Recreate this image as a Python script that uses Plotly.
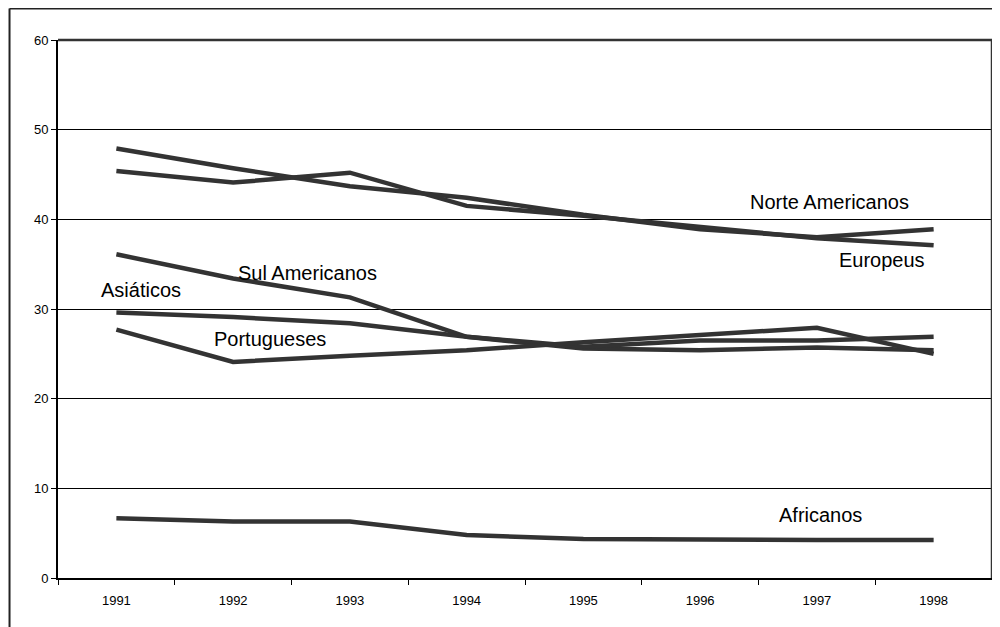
import plotly.graph_objects as go

years = ["1991", "1992", "1993", "1994", "1995", "1996", "1997", "1998"]
norte_americanos = [47.9, 45.7, 43.7, 42.4, 40.5, 38.9, 38.0, 38.9]
europeus = [45.4, 44.1, 45.2, 41.5, 40.4, 39.1, 37.9, 37.1]
sul_americanos = [36.1, 33.4, 31.3, 26.9, 25.6, 25.4, 25.7, 25.4]
asiaticos = [29.6, 29.1, 28.4, 26.9, 25.8, 26.5, 26.5, 26.9]
portugueses = [27.7, 24.1, 24.8, 25.4, 26.3, 27.1, 27.9, 25.0]
africanos = [6.65, 6.3, 6.3, 4.8, 4.35, 4.25, 4.25, 4.25]

series = [
    ("Norte Americanos", norte_americanos),
    ("Europeus", europeus),
    ("Sul Americanos", sul_americanos),
    ("Asiáticos", asiaticos),
    ("Portugueses", portugueses),
    ("Africanos", africanos),
]

# label placement (category index, value)
label_pos = {
    "Norte Americanos": (6.11, 41.9),
    "Europeus": (6.56, 35.45),
    "Sul Americanos": (1.64, 34.0),
    "Asiáticos": (0.21, 32.1),
    "Portugueses": (1.32, 26.7),
    "Africanos": (6.03, 7.0),
}

FONT = "Liberation Sans, Arial, sans-serif"
fig = go.Figure()
for name, vals in series:
    fig.add_trace(go.Scatter(
        x=years, y=vals, mode="lines", name=name,
        line=dict(color="#333333", width=4.5),
        showlegend=False, hoverinfo="skip",
    ))

for name, (xi, yv) in label_pos.items():
    fig.add_annotation(x=xi, y=yv, xref="x", yref="y", text=name,
                       showarrow=False, font=dict(family=FONT, size=20, color="black"),
                       xanchor="center", yanchor="middle")

# page body has an 8px margin, so the figure is sized to fill the rest
W, H = 992, 619
L, R, T, B = 49.5, 8, 32, 49
pw = W - L - R
ph = H - T - B
fx = (1 - L) / pw
fy = (H - B - 0.5) / ph

fig.update_layout(
    width=W, height=H,
    margin=dict(l=L, r=R, t=T, b=B, pad=0),
    paper_bgcolor="white", plot_bgcolor="white",
    font=dict(family=FONT, color="black"),
    xaxis=dict(
        type="category", range=[-0.5, 7.5], tickson="boundaries",
        ticks="outside", ticklen=5, tickwidth=1, tickcolor="black",
        showline=True, linecolor="black", linewidth=2,
        showgrid=False, zeroline=False,
        tickfont=dict(family=FONT, size=13, color="black"),
        ticklabelstandoff=9,
    ),
    yaxis=dict(
        range=[0, 60], dtick=10, tick0=0,
        ticks="outside", ticklen=5, tickwidth=1, tickcolor="black",
        showline=True, linecolor="black", linewidth=2,
        showgrid=True, gridcolor="black", gridwidth=1,
        zeroline=False,
        tickfont=dict(family=FONT, size=13, color="black"),
    ),
    shapes=[
        # plot-area border (top and right)
        dict(type="line", xref="paper", yref="paper", x0=0, x1=1, y0=1, y1=1,
             line=dict(color="#333333", width=2.5), layer="above"),
        dict(type="line", xref="paper", yref="paper", x0=1, x1=1, y0=0, y1=1,
             line=dict(color="#333333", width=2.5), layer="above"),
        # outer chart frame
        dict(type="line", xref="paper", yref="paper", x0=fx, x1=1.2, y0=fy, y1=fy,
             line=dict(color="#222222", width=2), layer="above"),
        dict(type="line", xref="paper", yref="paper", x0=fx, x1=fx, y0=-0.2, y1=fy,
             line=dict(color="#222222", width=2), layer="above"),
    ],
)

fig.write_html("out.html")
